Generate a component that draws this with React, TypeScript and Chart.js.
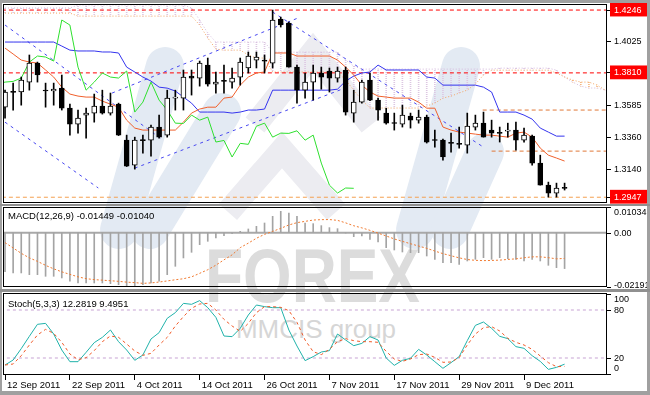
import React, { useEffect, useRef } from 'react';
import { Chart, registerables } from 'chart.js';

Chart.register(...registerables);

const FONT = '"Liberation Sans", Arial, Helvetica, sans-serif';

// ---------- tick labels / categories ----------
const dateLabels = ['12 Sep 2011', '22 Sep 2011', '4 Oct 2011', '14 Oct 2011', '26 Oct 2011', '7 Nov 2011', '17 Nov 2011', '29 Nov 2011', '9 Dec 2011'];
const dateLabelBars = [0, 8, 16, 24, 32, 40, 48, 56, 64];
const priceLabels = [1.4246, 1.4025, 1.381, 1.3585, 1.336, 1.314, 1.2947];
const markedPrices = [1.4246, 1.381, 1.2947];
const macdLabels = [0.01034, 0, -0.02191];
const stochLabels = [100, 80, 20, 0];
const stochLevels = [80, 20];

// ---------- price (daily bars) ----------
const opens = [
  1.3572, 1.3677, 1.3677, 1.3746, 1.3878, 1.3690, 1.3684, 1.3704, 1.3565, 1.3454,
  1.3517, 1.3531, 1.3579, 1.3531, 1.3593, 1.3343, 1.3170, 1.3343, 1.3343, 1.3434,
  1.3378, 1.3635, 1.3635, 1.3788, 1.3774, 1.3864, 1.3732, 1.3753, 1.3746, 1.3781,
  1.3844, 1.3899, 1.3899, 1.3878, 1.4184, 1.4156, 1.3850, 1.3690, 1.3746, 1.3809,
  1.3823, 1.3774, 1.3830, 1.3531, 1.3607, 1.3760, 1.3621, 1.3531, 1.3461, 1.3454,
  1.3510, 1.3482, 1.3503, 1.3343, 1.3343, 1.3323, 1.3316, 1.3309, 1.3434, 1.3461,
  1.3413, 1.3392, 1.3406, 1.3413, 1.3343, 1.3371, 1.3184, 1.3031, 1.2976, 1.3011,
];
const highs = [
  1.3690, 1.3739, 1.3781, 1.3934, 1.3885, 1.3739, 1.3739, 1.3795, 1.3593, 1.3552,
  1.3565, 1.3663, 1.3690, 1.3670, 1.3600, 1.3378, 1.3364, 1.3378, 1.3447, 1.3517,
  1.3690, 1.3690, 1.3830, 1.3830, 1.3892, 1.3913, 1.3816, 1.3864, 1.3844, 1.3913,
  1.3955, 1.3955, 1.3934, 1.4246, 1.4197, 1.4163, 1.3864, 1.3809, 1.3864, 1.3850,
  1.3844, 1.3850, 1.3850, 1.3690, 1.3760, 1.3809, 1.3635, 1.3565, 1.3531, 1.3586,
  1.3531, 1.3552, 1.3517, 1.3413, 1.3350, 1.3392, 1.3434, 1.3531, 1.3517, 1.3538,
  1.3482, 1.3434, 1.3461, 1.3468, 1.3427, 1.3378, 1.3239, 1.3052, 1.3045, 1.3045,
];
const lows = [
  1.3496, 1.3552, 1.3586, 1.3690, 1.3746, 1.3572, 1.3586, 1.3552, 1.3378, 1.3392,
  1.3357, 1.3468, 1.3524, 1.3517, 1.3375, 1.3160, 1.3142, 1.3253, 1.3232, 1.3357,
  1.3364, 1.3552, 1.3552, 1.3656, 1.3718, 1.3718, 1.3670, 1.3670, 1.3704, 1.3725,
  1.3809, 1.3844, 1.3809, 1.3844, 1.4128, 1.3850, 1.3600, 1.3635, 1.3621, 1.3697,
  1.3677, 1.3746, 1.3517, 1.3468, 1.3600, 1.3617, 1.3482, 1.3454, 1.3413, 1.3434,
  1.3427, 1.3461, 1.3323, 1.3295, 1.3205, 1.3260, 1.3288, 1.3253, 1.3413, 1.3364,
  1.3364, 1.3330, 1.3364, 1.3274, 1.3330, 1.3170, 1.3031, 1.2948, 1.2948, 1.2997,
];
const closes = [
  1.3677, 1.3675, 1.3760, 1.3878, 1.3795, 1.3684, 1.3697, 1.3565, 1.3454, 1.3496,
  1.3531, 1.3579, 1.3531, 1.3579, 1.3378, 1.3163, 1.3343, 1.3340, 1.3434, 1.3364,
  1.3635, 1.3637, 1.3781, 1.3774, 1.3878, 1.3732, 1.3746, 1.3751, 1.3774, 1.3885,
  1.3927, 1.3920, 1.3892, 1.4177, 1.4142, 1.3850, 1.3690, 1.3746, 1.3809, 1.3781,
  1.3774, 1.3823, 1.3538, 1.3607, 1.3746, 1.3621, 1.3552, 1.3461, 1.3459, 1.3517,
  1.3482, 1.3503, 1.3330, 1.3341, 1.3226, 1.3321, 1.3314, 1.3440, 1.3461, 1.3364,
  1.3392, 1.3390, 1.3408, 1.3343, 1.3378, 1.3184, 1.3031, 1.2976, 1.3011, 1.3009,
];

// ---------- Ichimoku ----------
const tenkan = [
  1.3982, 1.3941, 1.3899, 1.3885, 1.3878, 1.3830, 1.3781, 1.3711, 1.3663, 1.3649,
  1.3642, 1.3642, 1.3614, 1.3593, 1.3572, 1.3482, 1.3427, 1.3413, 1.3413, 1.3413,
  1.3413, 1.3413, 1.3468, 1.3531, 1.3559, 1.3572, 1.3572, 1.3635, 1.3642, 1.3725,
  1.3781, 1.3809, 1.3816, 1.3948, 1.3948, 1.3948, 1.3927, 1.3927, 1.3927, 1.3927,
  1.3927, 1.3899, 1.3850, 1.3795, 1.3725, 1.3677, 1.3649, 1.3642, 1.3635, 1.3635,
  1.3635, 1.3607, 1.3565, 1.3565, 1.3434, 1.3413, 1.3399, 1.3392, 1.3385, 1.3378,
  1.3378, 1.3371, 1.3364, 1.3392, 1.3399, 1.3364, 1.3288, 1.3239, 1.3219, 1.3198,
];
const kijun = [
  1.4024, 1.4024, 1.4024, 1.4024, 1.4024, 1.4024, 1.4024, 1.3996, 1.3968, 1.3962,
  1.3962, 1.3962, 1.3955, 1.3955, 1.3948, 1.3850, 1.3816, 1.3781, 1.3753, 1.3711,
  1.3704, 1.3684, 1.3642, 1.3600, 1.3538, 1.3538, 1.3538, 1.3538, 1.3531, 1.3538,
  1.3552, 1.3552, 1.3559, 1.3690, 1.3690, 1.3690, 1.3690, 1.3690, 1.3690, 1.3690,
  1.3690, 1.3697, 1.3753, 1.3788, 1.3809, 1.3816, 1.3864, 1.3830, 1.3830, 1.3830,
  1.3830, 1.3830, 1.3781, 1.3774, 1.3725, 1.3725, 1.3725, 1.3725, 1.3725, 1.3711,
  1.3677, 1.3538, 1.3538, 1.3538, 1.3517, 1.3489, 1.3427, 1.3399, 1.3371, 1.3371,
];
const spanA = [
  1.4225, 1.4225, 1.4225, 1.4225, 1.4225, 1.4225, 1.4225, 1.4225, 1.4225, 1.4204,
  1.4204, 1.4204, 1.4204, 1.4204, 1.4204, 1.4204, 1.4204, 1.4204, 1.4204, 1.4204,
  1.4204, 1.4204, 1.4204, 1.4204, 1.4142, 1.4052, 1.3975, 1.3968, 1.3968, 1.3968,
  1.3934, 1.3913, 1.3913, 1.3816, 1.3816, 1.3816, 1.3816, 1.3816, 1.3816, 1.3816,
  1.3816, 1.3816, 1.3760, 1.3690, 1.3621, 1.3566, 1.3566, 1.3566, 1.3566, 1.3566,
  1.3566, 1.3566, 1.3580, 1.3600, 1.3635, 1.3649, 1.3670, 1.3691, 1.3732, 1.3795,
  1.3829, 1.3829, 1.3829, 1.3829, 1.3829, 1.3829, 1.3829, 1.3829, 1.3809, 1.3781,
  1.3760, 1.3746, 1.3746, 1.3725, 1.3691,
];
const spanB = [
  1.4260, 1.4260, 1.4260, 1.4260, 1.4260, 1.4260, 1.4260, 1.4260, 1.4260, 1.4281,
  1.4281, 1.4281, 1.4281, 1.4281, 1.4281, 1.4281, 1.4281, 1.4281, 1.4281, 1.4281,
  1.4281, 1.4281, 1.4281, 1.4260, 1.4177, 1.4086, 1.4024, 1.4024, 1.4024, 1.4024,
  1.4024, 1.4024, 1.4024, 1.3954, 1.3954, 1.3954, 1.3954, 1.3954, 1.3954, 1.3954,
  1.3954, 1.3954, 1.3899, 1.3857, 1.3836, 1.3836, 1.3836, 1.3836, 1.3836, 1.3836,
  1.3836, 1.3836, 1.3836, 1.3836, 1.3836, 1.3836, 1.3836, 1.3836, 1.3836, 1.3836,
  1.3836, 1.3843, 1.3843, 1.3843, 1.3843, 1.3843, 1.3843, 1.3843, 1.3829, 1.3781,
  1.3746, 1.3718, 1.3705, 1.3705, 1.3691,
];
const chikouShift = 26;

// ---------- drawn lines (bar index / price) ----------
const levelPrices = [1.4246, 1.381, 1.2947];
const levelColors = ['#ff0000', '#ff0000', '#f4a050'];
const supportPrices = [1.3552, 1.3267];
const supportStartBars = [58.9, 60];
const trendStartBars = [0, 0, 16, 13.2, 33];
const trendStartPrices = [1.4142, 1.3468, 1.3149, 1.367, 1.4232];
const trendEndBars = [19.5, 11.5, 41.9, 36.4, 58.8];
const trendEndPrices = [1.3343, 1.3011, 1.3704, 1.4197, 1.3302];

// ---------- MACD ----------
const macdMain = [
  -0.0157, -0.01625, -0.01625, -0.01693, -0.01693, -0.0176, -0.0176, -0.01827, -0.01961, -0.02029,
  -0.02029, -0.02029, -0.02029, -0.02056, -0.02096, -0.02136, -0.02136, -0.02096, -0.02029, -0.01961,
  -0.01693, -0.01357, -0.0102, -0.00793, -0.00484, -0.00349, -0.00215, -0.00121, -0.0004, 0.00054,
  0.00148, 0.00255, 0.00389, 0.00658, 0.0086, 0.00793, 0.00658, 0.00389, 0.00363, 0.00282,
  0.00202, 0.00161, -0.0002, -0.00161, -0.00134, -0.0027, -0.00376, -0.00605, -0.00699, -0.0078,
  -0.00806, -0.00806, -0.00941, -0.01075, -0.01209, -0.01209, -0.01277, -0.01142, -0.01075, -0.01008,
  -0.01075, -0.01008, -0.01048, -0.01075, -0.01142, -0.01075, -0.01142, -0.01317, -0.01411, -0.01449,
];
const macdSignal = [
  -0.00403, -0.00617, -0.00834, -0.01016, -0.01157, -0.01318, -0.01459, -0.0158, -0.01681, -0.01782,
  -0.01854, -0.01894, -0.01915, -0.01939, -0.01963, -0.01995, -0.02015, -0.02044, -0.02027, -0.01991,
  -0.01947, -0.01898, -0.01858, -0.01782, -0.0164, -0.01495, -0.0131, -0.01096, -0.00895, -0.00605,
  -0.00423, -0.00226, -0.00069, 0.00052, 0.00173, 0.0031, 0.00403, 0.00455, 0.00508, 0.00524,
  0.00528, 0.00496, 0.00395, 0.00278, 0.00193, 0.00093, -0.0002, -0.00133, -0.00254, -0.00351,
  -0.00447, -0.0054, -0.00633, -0.00742, -0.00846, -0.00931, -0.01016, -0.01084, -0.01116, -0.01128,
  -0.0112, -0.01108, -0.0108, -0.01056, -0.01012, -0.00975, -0.00975, -0.01008, -0.01056, -0.0104,
];

// ---------- Stochastic ----------
const stochK = [
  11.25, 17.5, 31.7, 47.1, 62.1, 63.3, 50, 30, 15.4, 15.4,
  27.1, 39.2, 45.8, 55, 40.4, 30, 17.1, 23.75, 43.75, 51.7,
  69.6, 76.7, 88.3, 87.1, 91.7, 82.9, 70.8, 47.5, 46.7, 57.1,
  73.75, 86.25, 84.2, 82.9, 82.9, 55, 35, 16.7, 21.7, 27.5,
  29.2, 50, 42.5, 35.4, 38.3, 46.7, 42.5, 20, 10.8, 17.1,
  19.6, 30.8, 23.75, 15.4, 7.1, 14.2, 21.7, 41.7, 60.8, 65,
  57.1, 47.1, 44.2, 34.2, 32.1, 22.9, 15.8, 5.8, 8.3, 12.2819,
];
const stochD = [
  11.25, 12.5, 22.9, 36.25, 48.75, 55.8, 50.8, 39.6, 25, 17.9,
  20.4, 29.2, 40.4, 47.5, 45.8, 37.5, 28.75, 23.3, 25.8, 36.25,
  45.8, 60, 71.7, 82.1, 87.5, 88.3, 80, 68.3, 60, 53.3,
  63.3, 76.7, 84.2, 84.2, 83.3, 79.2, 64.6, 42.5, 27.9, 24.2,
  30.8, 40.4, 44.2, 41.7, 40.4, 40.4, 39.6, 28.3, 18.75, 15.8,
  18.75, 24.2, 25, 20.8, 14.6, 15, 20.4, 36.25, 50, 57.9,
  59.2, 53.75, 44.6, 39.6, 36.25, 30.8, 22.5, 14.2, 9.2, 9.4951,
];

// ---------- layout constants ----------
const X_MIN = -0.25;
const X_MAX = 74.23;
const MAIN_MIN = 1.2907;
const MAIN_MAX = 1.4288;
const AXIS_W = 43;

const framePlugin = {
  id: 'frame',
  afterDatasetsDraw(chart: any) {
    const { ctx, chartArea: a } = chart;
    ctx.save();
    ctx.strokeStyle = '#000';
    ctx.lineWidth = 1;
    ctx.strokeRect(a.left + 0.5, a.top + 0.5, a.right - a.left - 1, a.bottom - a.top - 1);
    ctx.restore();
  },
};

const sideLabelsPlugin = {
  id: 'sideLabels',
  afterDraw(chart: any, _args: any, opts: any) {
    if (!opts || !opts.values) return;
    const { ctx, chartArea: a, scales } = chart;
    ctx.save();
    ctx.font = '9px ' + FONT;
    ctx.fillStyle = '#000';
    ctx.strokeStyle = '#000';
    ctx.lineWidth = 1;
    ctx.textBaseline = 'middle';
    ctx.textAlign = 'left';
    opts.values.forEach((v: number, i: number) => {
      const py = Math.round(scales.y.getPixelForValue(v)) + 0.5;
      ctx.beginPath();
      ctx.moveTo(a.right, py);
      ctx.lineTo(a.right + 4, py);
      ctx.stroke();
      const ty = Math.min(Math.max(py, a.top + opts.topPad), a.bottom - opts.bottomPad);
      ctx.fillText(opts.texts[i], a.right + 7, ty);
    });
    ctx.restore();
  },
};

const titlePlugin = {
  id: 'panelTitle',
  afterDraw(chart: any, _args: any, opts: any) {
    if (!opts || !opts.text) return;
    const { ctx, chartArea: a } = chart;
    ctx.save();
    ctx.font = '9.5px ' + FONT;
    ctx.fillStyle = '#000';
    ctx.textBaseline = 'middle';
    ctx.fillText(opts.text, a.left + 5, a.top + opts.dy);
    ctx.restore();
  },
};

const commonPlugins = {
  legend: { display: false },
  tooltip: { enabled: false },
  colors: { enabled: false },
};

const fitWidth = (s: any) => {
  s.width = AXIS_W;
  s.paddingTop = 0;
  s.paddingBottom = 0;
};

function lineDs(data: any[], color: string, width: number, dash: number[], order: number) {
  return {
    type: 'line',
    data,
    borderColor: color,
    borderWidth: width,
    borderDash: dash,
    pointRadius: 0,
    fill: false,
    tension: 0,
    order,
  };
}

export default function App() {
  const mainRef = useRef<HTMLCanvasElement | null>(null);
  const macdRef = useRef<HTMLCanvasElement | null>(null);
  const stochRef = useRef<HTMLCanvasElement | null>(null);

  useEffect(() => {
    const mainCanvas = mainRef.current;
    const macdCanvas = macdRef.current;
    const stochCanvas = stochRef.current;
    if (!mainCanvas || !macdCanvas || !stochCanvas) return;
    const mctx = mainCanvas.getContext('2d') as CanvasRenderingContext2D;

    const makeHatch = (color: string) => {
      const c = document.createElement('canvas');
      c.width = 1;
      c.height = 2;
      const g = c.getContext('2d') as CanvasRenderingContext2D;
      g.fillStyle = color;
      g.fillRect(0, 0, 1, 1);
      return mctx.createPattern(c, 'repeat');
    };
    const thistleHatch = makeHatch('#dcc6e2');
    const sandyHatch = makeHatch('#f6b880');

    const idx = closes.map((_, i) => i);
    const cloudIdx = spanA.map((_, i) => i);

    const mainDatasets: any[] = [
      {
        type: 'bar',
        data: idx.map((i) => ({ x: i, y: [opens[i], closes[i]] })),
        backgroundColor: idx.map((i) => (closes[i] >= opens[i] ? '#ffffff' : '#000000')),
        borderColor: '#000',
        borderWidth: 1,
        borderSkipped: false,
        barThickness: 5,
        minBarLength: 1,
        grouped: false,
        order: 0,
      },
      {
        type: 'bar',
        data: idx.map((i) => ({ x: i, y: [lows[i], highs[i]] })),
        backgroundColor: '#000',
        borderWidth: 0,
        barThickness: 1,
        grouped: false,
        order: 1,
      },
      lineDs(closes.map((c, i) => ({ x: i - chikouShift, y: c })), '#2ee02e', 1, [], 2),
      lineDs(tenkan.map((v, i) => ({ x: i, y: v })), '#f0602c', 1, [], 3),
      lineDs(kijun.map((v, i) => ({ x: i, y: v })), '#3434ee', 1, [], 3),
    ];
    trendStartBars.forEach((b, k) => {
      mainDatasets.push(
        lineDs(
          [
            { x: b, y: trendStartPrices[k] },
            { x: trendEndBars[k], y: trendEndPrices[k] },
          ],
          '#4848f0',
          1,
          [3, 4],
          5
        )
      );
    });
    levelPrices.forEach((p, k) => {
      mainDatasets.push(
        lineDs(
          [
            { x: X_MIN - 1, y: p },
            { x: X_MAX + 1, y: p },
          ],
          levelColors[k],
          1,
          [4, 3],
          6
        )
      );
    });
    supportPrices.forEach((p, k) => {
      mainDatasets.push(
        lineDs(
          [
            { x: supportStartBars[k], y: p },
            { x: X_MAX + 1, y: p },
          ],
          '#e07838',
          1,
          [4, 3],
          6
        )
      );
    });
    mainDatasets.push(lineDs(cloudIdx.map((i) => ({ x: i, y: spanA[i] })), '#f4a460', 1, [1, 2], 7));
    mainDatasets.push(lineDs(cloudIdx.map((i) => ({ x: i, y: spanB[i] })), '#d4b8dc', 1, [1, 2], 7));
    mainDatasets.push({
      type: 'bar',
      data: cloudIdx.map((i) => ({ x: i, y: [spanA[i], spanB[i]] })),
      backgroundColor: (c: any) => {
        const i = c.dataIndex;
        if (i === undefined) return thistleHatch;
        return spanB[i] >= spanA[i] ? thistleHatch : sandyHatch;
      },
      borderWidth: 0,
      barThickness: 1,
      grouped: false,
      order: 9,
    });

    const mainChart = new Chart(mainCanvas, {
      type: 'bar',
      data: { datasets: mainDatasets },
      plugins: [framePlugin],
      options: {
        responsive: false,
        animation: false,
        events: [],
        layout: { padding: { left: 3, top: 4, right: 0, bottom: 2 } },
        plugins: commonPlugins,
        scales: {
          x: { type: 'linear', min: X_MIN, max: X_MAX, offset: false, display: false },
          y: {
            type: 'linear',
            position: 'right',
            min: MAIN_MIN,
            max: MAIN_MAX,
            afterFit: fitWidth,
            afterBuildTicks: (s: any) => {
              s.ticks = priceLabels.map((v) => ({ value: v }));
            },
            grid: { drawOnChartArea: false, drawTicks: true, tickLength: 4, color: '#000', offset: false },
            border: { display: false },
            ticks: {
              autoSkip: false,
              padding: 3,
              font: { family: FONT, size: 9 },
              color: (c: any) => (c.tick && markedPrices.includes(c.tick.value) ? '#ffffff' : '#000000'),
              callback: (v: any) => Number(v).toFixed(4),
              showLabelBackdrop: true,
              backdropColor: (c: any) => (c.tick && markedPrices.includes(c.tick.value) ? '#ff0000' : 'rgba(0,0,0,0)'),
              backdropPadding: { top: 2, bottom: 1, left: 4, right: 12 },
            },
          },
        },
      } as any,
    } as any);

    const macdChart = new Chart(macdCanvas, {
      type: 'bar',
      data: {
        datasets: [
          {
            type: 'bar',
            data: macdMain.map((v, i) => ({ x: i, y: v })),
            backgroundColor: '#a4a4a4',
            borderWidth: 0,
            barThickness: 1,
            grouped: false,
            order: 2,
          },
          lineDs(
            [
              { x: X_MIN - 1, y: 0 },
              { x: X_MAX + 1, y: 0 },
            ],
            '#a8a8a8',
            2,
            [],
            3
          ),
          lineDs(macdSignal.map((v, i) => ({ x: i, y: v })), '#f07a30', 1, [2, 2], 1),
        ] as any[],
      },
      plugins: [framePlugin, sideLabelsPlugin, titlePlugin],
      options: {
        responsive: false,
        animation: false,
        events: [],
        layout: { padding: { left: 3, top: 2, right: 0, bottom: 2 } },
        plugins: {
          ...commonPlugins,
          sideLabels: {
            values: macdLabels,
            texts: macdLabels.map((v) => (v === 0 ? '0.00' : v.toFixed(5))),
            topPad: 6,
            bottomPad: 1,
          },
          panelTitle: {
            text: 'MACD(12,26,9) ' + macdMain[macdMain.length - 1].toFixed(5) + ' ' + macdSignal[macdSignal.length - 1].toFixed(5),
            dy: 9,
          },
        },
        scales: {
          x: { type: 'linear', min: X_MIN, max: X_MAX, offset: false, display: false },
          y: {
            type: 'linear',
            position: 'right',
            min: macdLabels[2],
            max: macdLabels[0],
            afterFit: fitWidth,
            grid: { display: false },
            border: { display: false },
            ticks: { display: false },
          },
        },
      } as any,
    } as any);

    const stochChart = new Chart(stochCanvas, {
      type: 'line',
      data: {
        datasets: [
          lineDs(
            [
              { x: X_MIN - 1, y: stochLevels[0] },
              { x: X_MAX + 1, y: stochLevels[0] },
            ],
            '#c8a4d4',
            1,
            [3, 3],
            4
          ),
          lineDs(
            [
              { x: X_MIN - 1, y: stochLevels[1] },
              { x: X_MAX + 1, y: stochLevels[1] },
            ],
            '#c8a4d4',
            1,
            [3, 3],
            4
          ),
          lineDs(stochK.map((v, i) => ({ x: i, y: v })), '#20b2aa', 1, [], 2),
          lineDs(stochD.map((v, i) => ({ x: i, y: v })), '#f05a28', 1, [3, 3], 1),
        ] as any[],
      },
      plugins: [framePlugin, sideLabelsPlugin, titlePlugin],
      options: {
        responsive: false,
        animation: false,
        events: [],
        layout: { padding: { left: 3, top: 4, right: 0, bottom: 0 } },
        plugins: {
          ...commonPlugins,
          sideLabels: {
            values: stochLabels,
            texts: stochLabels.map((v) => String(v)),
            topPad: 7,
            bottomPad: 6,
          },
          panelTitle: {
            text: 'Stoch(5,3,3) ' + stochK[stochK.length - 1].toFixed(4) + ' ' + stochD[stochD.length - 1].toFixed(4),
            dy: 11,
          },
        },
        scales: {
          x: {
            type: 'linear',
            min: X_MIN,
            max: X_MAX,
            offset: false,
            position: 'bottom',
            afterFit: (s: any) => {
              s.height = 20;
              s.paddingLeft = 0;
              s.paddingRight = 0;
            },
            afterBuildTicks: (s: any) => {
              s.ticks = dateLabelBars.map((v) => ({ value: v }));
            },
            grid: { drawOnChartArea: false, drawTicks: true, tickLength: 5, color: '#000', offset: false },
            border: { display: false },
            ticks: {
              autoSkip: false,
              maxRotation: 0,
              align: 'start',
              labelOffset: 2,
              padding: 0,
              font: { family: FONT, size: 9.5 },
              color: '#000',
              callback: (_v: any, index: number) => dateLabels[index],
            },
          },
          y: {
            type: 'linear',
            position: 'right',
            min: -1.25,
            max: 101.25,
            afterFit: fitWidth,
            grid: { display: false },
            border: { display: false },
            ticks: { display: false },
          },
        },
      } as any,
    } as any);

    return () => {
      mainChart.destroy();
      macdChart.destroy();
      stochChart.destroy();
    };
  }, []);

  const abs: any = { position: 'absolute' };

  return (
    <div
      style={{
        position: 'absolute',
        left: 0,
        top: 0,
        width: 650,
        height: 395,
        background: '#ffffff',
        overflow: 'hidden',
      }}
    >
      <svg width={650} height={395} style={{ ...abs, left: 0, top: 0 }}>
        <g stroke="#e3eaf3" strokeWidth={38} strokeLinecap="round" fill="none">
          <line x1={165} y1={66} x2={119} y2={230} />
          <line x1={222} y1={112} x2={150} y2={230} />
          <line x1={461} y1={66} x2={415} y2={230} />
          <line x1={485} y1={152} x2={450} y2={230} />
        </g>
        <g stroke="#ececf1" strokeWidth={24} fill="none">
          <polyline points="255,125 313,52 371,125" />
          <polyline points="228,212 282,150 336,212" />
        </g>
        <text
          x={205}
          y={302}
          fontFamily={FONT}
          fontSize={76}
          fontWeight="bold"
          fill="#dcdcdc"
          textLength={215}
          lengthAdjust="spacingAndGlyphs"
        >
          FOREX
        </text>
        <text x={236} y={338} fontFamily={FONT} fontSize={26} fill="#d6d6d6" textLength={160} lengthAdjust="spacingAndGlyphs">
          MMCIS group
        </text>
      </svg>
      <canvas ref={mainRef} width={650} height={205} style={{ ...abs, left: 0, top: 0, width: 650, height: 205 }} />
      <canvas ref={macdRef} width={650} height={84} style={{ ...abs, left: 0, top: 205, width: 650, height: 84 }} />
      <canvas ref={stochRef} width={650} height={106} style={{ ...abs, left: 0, top: 289, width: 650, height: 106 }} />
      <div style={{ ...abs, left: 0, top: 0, width: 650, height: 3, background: '#a0a0a0' }} />
      <div style={{ ...abs, left: 0, top: 0, width: 2, height: 395, background: '#a0a0a0' }} />
      <div style={{ ...abs, left: 647, top: 0, width: 3, height: 395, background: '#a0a0a0' }} />
      <div style={{ ...abs, left: 0, top: 391, width: 650, height: 4, background: '#a0a0a0' }} />
      <div style={{ ...abs, left: 0, top: 204, width: 650, height: 2, background: '#909090' }} />
      <div style={{ ...abs, left: 0, top: 289, width: 650, height: 3, background: '#909090' }} />
    </div>
  );
}
